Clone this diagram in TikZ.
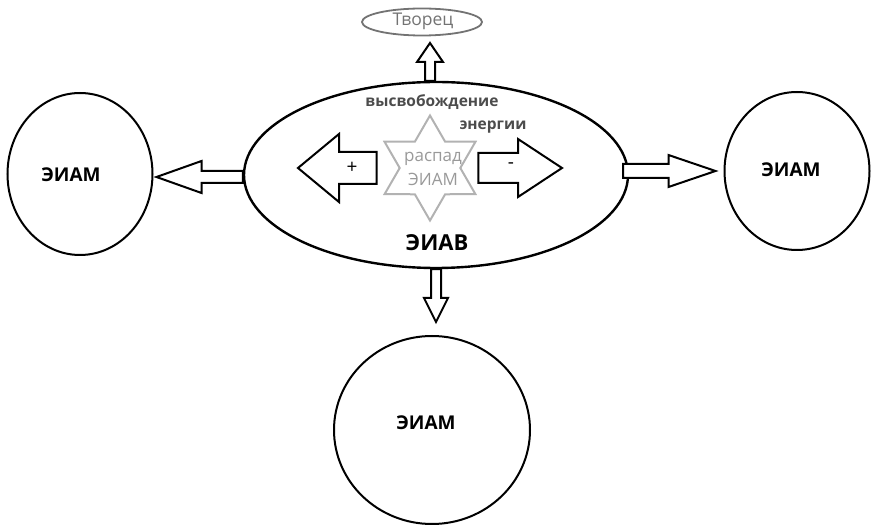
\documentclass[tikz,border=0pt]{standalone}
\usepackage{fontspec}
\setmainfont{Open Sans}
\usetikzlibrary{positioning,calc,shapes.geometric}
\tikzset{
  arrshaft/.store in=\arrshaft, arrshaft=6pt,
  arrhead/.store in=\arrhead, arrhead=16pt,
  arrheadlen/.store in=\arrheadlen, arrheadlen=45pt,
  blockarrow/.style={
    draw, fill=white, line width=2pt, line join=miter,
    to path={
      ($(\tikztotarget)!\arrheadlen!(\tikztostart)$) coordinate (ab)
      ($(\tikztostart)!\arrshaft!90:(\tikztotarget)$)
      -- ($(ab)!\arrshaft!90:(\tikztotarget)$)
      -- ($(ab)!\arrhead!90:(\tikztotarget)$)
      -- (\tikztotarget)
      -- ($(ab)!\arrhead!-90:(\tikztotarget)$)
      -- ($(ab)!\arrshaft!-90:(\tikztotarget)$)
      -- ($(\tikztostart)!\arrshaft!-90:(\tikztotarget)$)
      -- cycle
    }
  },
}

\begin{document}
\begin{tikzpicture}[
    x=1pt, y=-1pt,
    node distance=2mm,
    atom/.style={ellipse, draw, line width=2pt, inner sep=0pt},
    atomname/.style={font=\fontsize{19}{19}\selectfont\bfseries},
    graytext/.style={font=\fontsize{17}{17}\selectfont, text=black!40},
    energytext/.style={font=\fontsize{15.5}{15.5}\selectfont\bfseries, text=black!70}
  ]
    \useasboundingbox (0,0) rectangle (871,526);

    \node (eiav) [atom, line width=2.4pt, minimum width=384pt, minimum height=186pt] at (436,175) {};
    \node (creator) [ellipse, draw=black!55, line width=1.8pt, minimum width=120pt, minimum height=27pt, inner sep=0pt] at (422,22) {};
    \node (creator-t) [font=\fontsize{17.5}{17.5}\selectfont, text=black!55] at (423,21) {Творец};

    \node (leftam) [atom, minimum width=145pt, minimum height=162pt] at (80,174) {};
    \node (rightam) [atom, minimum width=145pt, minimum height=158pt] at (797,171) {};
    \node (bottomam) [atom, minimum width=196pt, minimum height=188pt] at (432,430) {};
    \node (leftam-t) [atomname] at (71,175) {ЭИАМ};
    \node (rightam-t) [atomname] at (791,170) {ЭИАМ};
    \node (bottomam-t) [atomname] at (426,423) {ЭИАМ};

    \node (decay) [star, star points=6, star point ratio=1.732, draw=black!30, line width=2pt, minimum size=105pt, inner sep=0pt] at (430,168) {};
    \node (decay-t) [graytext] at (433,159) {распад};
    \node (decay-a) [graytext, below=0mm of decay-t] {ЭИАМ};

    \node (release) [energytext] at (432,102) {высвобождение};
    \node (release-e) [energytext] at (493,127) {энергии};
    \node (eiav-t) [font=\fontsize{22}{22}\selectfont\bfseries] at (437,243) {ЭИАВ};

    % ends of the block arrows
    \coordinate (plus-s) at ([xshift=-22pt]decay.west);
    \coordinate (plus-e) at (298,168);
    \coordinate (minus-s) at ([xshift=17pt]decay.east);
    \coordinate (minus-e) at (562,168);
    \coordinate (left-s) at (eiav.west |- 0,177);
    \coordinate (left-e) at ([xshift=3pt]leftam.east |- left-s);
    \coordinate (right-s) at ([xshift=-6pt]eiav.east |- 0,171);
    \coordinate (right-e) at ([xshift=-8pt]rightam.west |- right-s);
    \coordinate (up-s) at ([xshift=-6pt]eiav.north);
    \coordinate (up-e) at (up-s |- 0,43);
    \coordinate (down-s) at (eiav.south);
    \coordinate (down-e) at (down-s |- 0,322);

    \draw[blockarrow, arrshaft=16pt, arrhead=34pt, arrheadlen=41pt] (plus-s) to (plus-e);
    \draw[blockarrow, arrshaft=15pt, arrhead=29pt, arrheadlen=44pt] (minus-s) to (minus-e);
    \draw[blockarrow, arrshaft=6pt, arrhead=16pt, arrheadlen=45pt] (left-s) to (left-e);
    \draw[blockarrow, arrshaft=7pt, arrhead=16pt, arrheadlen=47pt] (right-s) to (right-e);
    \draw[blockarrow, arrshaft=5pt, arrhead=13pt, arrheadlen=19pt] (up-s) to (up-e);
    \draw[blockarrow, arrshaft=5pt, arrhead=12pt, arrheadlen=24pt] (down-s) to (down-e);

    \node (plus) [font=\fontsize{19}{19}\selectfont] at (352,168) {+};
    \node (minus) [font=\fontsize{19}{19}\selectfont] at (511,166) {-};
  \end{tikzpicture}
\end{document}
